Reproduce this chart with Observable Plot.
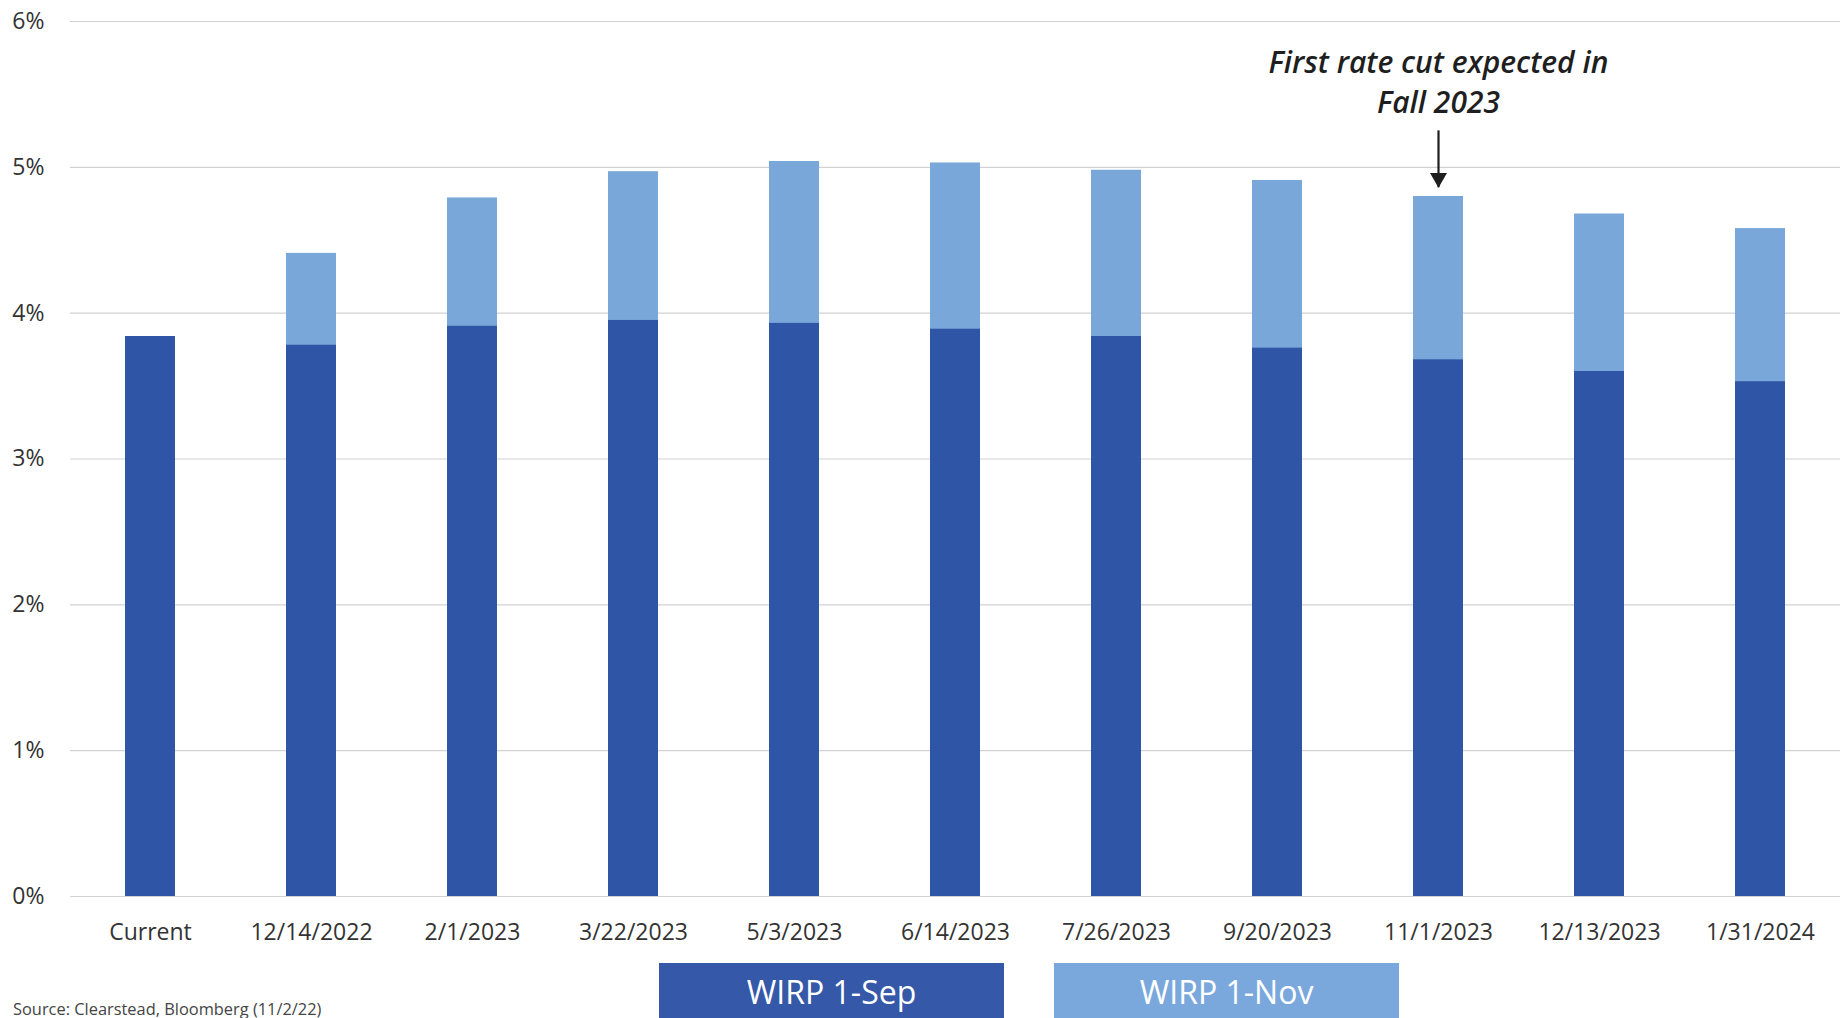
<!DOCTYPE html>
<html>
<head>
<meta charset="utf-8">
<script src="https://cdn.jsdelivr.net/npm/d3@7"></script>
<script src="https://cdn.jsdelivr.net/npm/@observablehq/plot@0.6"></script>
<style>
  html, body { margin: 0; padding: 0; background: #ffffff; }
  body { width: 1848px; height: 1018px; overflow: hidden; font-family: "Open Sans", sans-serif; }
  #chart svg { display: block; }
  #below { position: relative; width: 1848px; height: 58px; }
  .legend-box { position: absolute; top: 3px; height: 60px; width: 345px; color: #ffffff;
    font-size: 32px; display: flex; justify-content: center; align-items: flex-start; padding-top: 7px; box-sizing: border-box; }
  #source { position: absolute; left: 13px; top: 37px; font-size: 16.4px; color: #444; }
</style>
</head>
<body>
<div id="chart"></div>
<div id="below">
  <div class="legend-box" id="lg1" style="left:659px;"></div>
  <div class="legend-box" id="lg2" style="left:1054px;"></div>
  <div id="source"></div>
</div>
<script>
// ---- data ----
const categories = ["Current", "12/14/2022", "2/1/2023", "3/22/2023", "5/3/2023", "6/14/2023", "7/26/2023", "9/20/2023", "11/1/2023", "12/13/2023", "1/31/2024"];
const wirpSep = [3.84, 3.78, 3.91, 3.95, 3.93, 3.89, 3.84, 3.76, 3.68, 3.60, 3.53];
const wirpNov = [3.84, 4.41, 4.79, 4.97, 5.04, 5.03, 4.98, 4.91, 4.80, 4.68, 4.58];
const seriesNames = ["WIRP 1-Sep", "WIRP 1-Nov"];
const yTicks = [0, 1, 2, 3, 4, 5, 6];
const annotCategory = "11/1/2023";
const annotLines = ["First rate cut expected in", "Fall 2023"];
const annotTextY = 5.375;
const arrowStartY = 5.25;
const arrowTipY = 4.86;
const sourceText = "Source: Clearstead, Bloomberg (11/2/22)";

const colorSep = "#2f56a6";
const colorNov = "#79a7da";

const rows = categories.map((c, i) => ({cat: c, sep: wirpSep[i], nov: wirpNov[i]}));
const annot = [{cat: annotCategory, text: annotLines.join("\n"), ty: annotTextY, y1: arrowStartY, y2: arrowTipY}];

const chart = Plot.plot({
  width: 1848,
  height: 960,
  marginLeft: 70,
  marginRight: 8,
  marginTop: 21,
  marginBottom: 64,
  style: {fontFamily: "Open Sans, sans-serif", fontSize: "23px", color: "#333", background: "#fff"},
  x: {domain: categories, paddingInner: 0.69, paddingOuter: 0.335, label: null},
  y: {domain: [0, 6], label: null},
  marks: [
    Plot.gridY(yTicks, {stroke: "#d2d2d2", strokeOpacity: 1, strokeWidth: 1.2}),
    Plot.axisY(yTicks, {tickSize: 0, tickPadding: 26, tickFormat: d => d + "%", fontSize: 23, fill: "#333", label: null}),
    Plot.axisX({tickSize: 0, tickPadding: 27, fontSize: 23, fill: "#333", label: null}),
    Plot.barY(rows, {x: "cat", y: "nov", fill: colorNov}),
    Plot.barY(rows, {x: "cat", y: "sep", fill: colorSep}),
    Plot.ruleX(annot, {x: "cat", y1: "y1", y2: "y2", stroke: "#1e1e1e", strokeWidth: 2.2}),
    Plot.dot(annot, {x: "cat", y: "y2", symbol: "triangle", rotate: 180, r: 6.3, fill: "#1e1e1e", stroke: "none", dy: -9.8}),
    Plot.text(annot, {x: "cat", y: "ty", text: "text", lineAnchor: "bottom", lineHeight: 1.32,
      fontSize: 30, fontWeight: 600, fontStyle: "italic", fill: "#1f1f1f"})
  ]
});
document.getElementById("chart").appendChild(chart);

const lg1 = document.getElementById("lg1");
lg1.textContent = seriesNames[0];
lg1.style.background = "#3558a8";
const lg2 = document.getElementById("lg2");
lg2.textContent = seriesNames[1];
lg2.style.background = "#7aa8dc";
document.getElementById("source").textContent = sourceText;
</script>
</body>
</html>
